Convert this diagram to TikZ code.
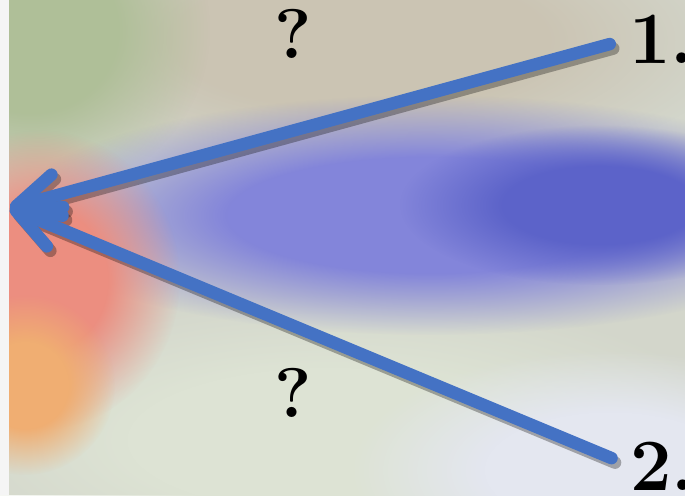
\documentclass[tikz,border=0pt]{standalone}
\usetikzlibrary{arrows.meta,fadings}

\definecolor{arrowblue}{HTML}{4472C4}
\definecolor{bgbase}{HTML}{D3D6CB}
\definecolor{leafgreen}{HTML}{AFBF98}
\definecolor{sand}{HTML}{CBC4B3}
\definecolor{haze}{HTML}{8385DA}
\definecolor{hazedeep}{HTML}{5C63C9}
\definecolor{rose}{HTML}{EC8E80}
\definecolor{amberglow}{HTML}{F0AE72}
\definecolor{mist}{HTML}{E4E7F0}
\definecolor{pale}{HTML}{DDE3D4}

% soft edged blob for the blurred backdrop
\pgfdeclareradialshading{blobshade}{\pgfpointorigin}{color(0bp)=(white); color(12bp)=(white); color(25bp)=(black); color(50bp)=(black)}
\pgfdeclarefading{blob}{\pgfuseshading{blobshade}}

\begin{document}
\begin{tikzpicture}[
    x=0.02cm, y=-0.02cm,
    numlabel/.style = {font=\fontsize{42}{42}\selectfont\bfseries, inner sep=0pt, anchor=base west},
    query/.style    = {font=\fontsize{40}{40}\selectfont\bfseries, inner sep=0pt, anchor=base},
    pointer/.style  = {draw=arrowblue, line width=0.25cm, line cap=round, shorten <=0.4cm,
                       -{Straight Barb[length=0.85cm, width=0.85cm, round]}},
    shade/.style    = {pointer, draw=black, draw opacity=0.3,
                       transform canvas={xshift=0.07cm, yshift=-0.09cm}}
]
\path[use as bounding box] (0,0) rectangle (685,495);
\clip (0,0) rectangle (685,495);

% backdrop
\fill[bgbase] (0,0) rectangle (685,495);
\fill[pale, path fading=blob] (330,440) ellipse (420 and 150);
\fill[mist, path fading=blob] (610,470) ellipse (260 and 120);
\fill[sand, path fading=blob] (360,40) ellipse (380 and 140);
\fill[leafgreen, path fading=blob] (30,30) ellipse (180 and 170);
\fill[haze, path fading=blob] (430,215) ellipse (420 and 120);
\fill[hazedeep, path fading=blob] (600,205) ellipse (200 and 80);
\fill[rose, path fading=blob] (40,280) ellipse (140 and 150);
\fill[amberglow, path fading=blob] (25,385) ellipse (90 and 90);
\fill[gray!8] (0,0) rectangle (9,495);

% labels
\coordinate (tip) at (10,208);
\node[numlabel] (one) at (629,63) {1.};
\node[numlabel] (two) at (630,490) {2.};
\node[query] (q1) at (293,58) {?};
\node[query] (q2) at (293,417) {?};

% arrows
\draw[shade] (one.west) -- (tip);
\draw[shade] (two.west) -- (tip);
\draw[pointer] (one.west) -- (tip);
\draw[pointer] (two.west) -- (tip);
\end{tikzpicture}
\end{document}
